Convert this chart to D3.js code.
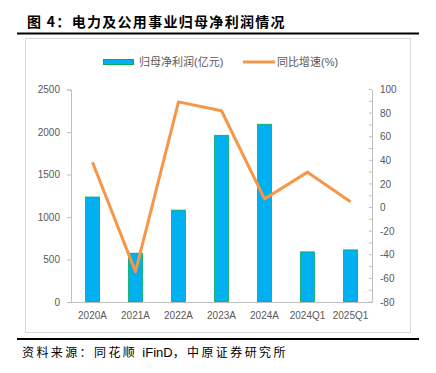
<!DOCTYPE html>
<html>
<head>
<meta charset="utf-8">
<script src="https://cdn.jsdelivr.net/npm/d3@7"></script>
<style>
  body { margin: 0; background: #fff; }
  svg text { font-family: "Liberation Sans", "Noto Sans CJK SC", sans-serif; }
</style>
</head>
<body>
<div id="wrapper"></div>
<script>
const categories = ["2020A", "2021A", "2022A", "2023A", "2024A", "2024Q1", "2025Q1"]
const profit = [1235, 574, 1081, 1961, 2091, 590, 613]
const growth = [38.4, -54.3, 89.5, 82, 7.3, 30, 5]
const leftTicks = [0, 500, 1000, 1500, 2000, 2500]
const rightTicks = [-80, -60, -40, -20, 0, 20, 40, 60, 80, 100]

const width = 436
const height = 373
const plot = { left: 71, right: 372, top: 89.5, bottom: 302 }

const svg = d3.select("#wrapper")
  .append("svg")
  .attr("width", width)
  .attr("height", height)

// title
svg.append("text")
  .attr("x", 27)
  .attr("y", 27)
  .style("font-family", "'Noto Sans CJK SC'")
  .style("font-weight", "bold")
  .style("font-size", "14px")
  .style("letter-spacing", "1.3px")
  .attr("fill", "#000")
  .text("图 4：电力及公用事业归母净利润情况")

svg.append("line")
  .attr("x1", 17).attr("x2", 419)
  .attr("y1", 33.5).attr("y2", 33.5)
  .attr("stroke", "#000").attr("stroke-width", 2)

// chart frame
svg.append("rect")
  .attr("x", 25.5).attr("y", 38.5)
  .attr("width", 385).attr("height", 294)
  .attr("fill", "none")
  .attr("stroke", "#D9D9D9")

svg.append("line")
  .attr("x1", 17).attr("x2", 419)
  .attr("y1", 339).attr("y2", 339)
  .attr("stroke", "#000").attr("stroke-width", 2)

const source = svg.append("text")
  .attr("x", 22)
  .attr("y", 357)
  .style("font-family", "'Noto Sans CJK SC'")
  .style("font-size", "12px")
  .attr("fill", "#000")
source.append("tspan").style("letter-spacing", "2.4px").text("资料来源：同花顺 ")
source.append("tspan").style("font-family", "'Liberation Sans'").style("font-size", "13px").text("iFinD")
source.append("tspan").style("letter-spacing", "2.4px").text("，中原证券研究所")

// scales
const xScale = d3.scaleBand()
  .domain(categories)
  .range([plot.left, plot.right])

const yLeft = d3.scaleLinear()
  .domain([0, 2500])
  .range([plot.bottom, plot.top])

const yRight = d3.scaleLinear()
  .domain([-80, 100])
  .range([plot.bottom, plot.top])

const center = d => xScale(d) + xScale.bandwidth() / 2
const barWidth = 14
const fmt = d => String(d)

// bars
svg.append("g")
  .selectAll("rect")
  .data(profit)
  .join("rect")
  .attr("x", (d, i) => center(categories[i]) - barWidth / 2)
  .attr("y", d => yLeft(d))
  .attr("width", barWidth)
  .attr("height", d => yLeft(0) - yLeft(d))
  .attr("fill", "#00B0F0")
  .attr("stroke", "#00B050")
  .attr("stroke-width", 0.8)

// axes
const axisColor = "#BFBFBF"
const labelColor = "#595959"

const leftAxis = svg.append("g")
  .attr("transform", `translate(${plot.left},0)`)
  .call(d3.axisLeft(yLeft).tickValues(leftTicks).tickFormat(fmt).tickSize(4).tickPadding(7))
leftAxis.select(".domain").attr("stroke", axisColor)
leftAxis.selectAll(".tick line").attr("stroke", axisColor)
leftAxis.selectAll(".tick text")
  .attr("fill", labelColor)
  .style("font-size", "10px")

const rightAxis = svg.append("g")
  .attr("transform", `translate(${plot.right},0)`)
  .call(d3.axisRight(yRight).tickValues(rightTicks).tickFormat(fmt).tickSize(0).tickPadding(8))
rightAxis.select(".domain").attr("stroke", axisColor)
rightAxis.selectAll(".tick text")
  .attr("fill", labelColor)
  .style("font-size", "10px")
rightAxis.selectAll(".minor")
  .data(d3.range(-80, 101, 10))
  .join("line")
  .attr("class", "minor")
  .attr("x1", -3).attr("x2", 0)
  .attr("y1", d => yRight(d)).attr("y2", d => yRight(d))
  .attr("stroke", axisColor)

const xAxis = svg.append("g")
  .attr("transform", `translate(0,${plot.bottom})`)
  .call(d3.axisBottom(xScale).tickSize(0).tickPadding(10))
xAxis.select(".domain").attr("stroke", axisColor)
xAxis.selectAll(".tick text")
  .attr("fill", labelColor)
  .style("font-size", "10px")

// line
const line = d3.line()
  .x((d, i) => center(categories[i]))
  .y(d => yRight(d))

svg.append("path")
  .datum(growth)
  .attr("d", line)
  .attr("fill", "none")
  .attr("stroke", "#F79646")
  .attr("stroke-width", 3)
  .attr("stroke-linejoin", "round")

// legend
const legend = svg.append("g").style("font-size", "11px")
legend.append("rect")
  .attr("x", 103.5).attr("y", 59.5)
  .attr("width", 30).attr("height", 5)
  .attr("fill", "#00B0F0")
  .attr("stroke", "#00B050")
legend.append("text")
  .attr("x", 139).attr("y", 66)
  .attr("fill", labelColor)
  .text("归母净利润(亿元)")
legend.append("line")
  .attr("x1", 243).attr("x2", 275)
  .attr("y1", 62).attr("y2", 62)
  .attr("stroke", "#F79646")
  .attr("stroke-width", 3)
legend.append("text")
  .attr("x", 277).attr("y", 66)
  .attr("fill", labelColor)
  .text("同比增速(%)")
</script>
</body>
</html>
